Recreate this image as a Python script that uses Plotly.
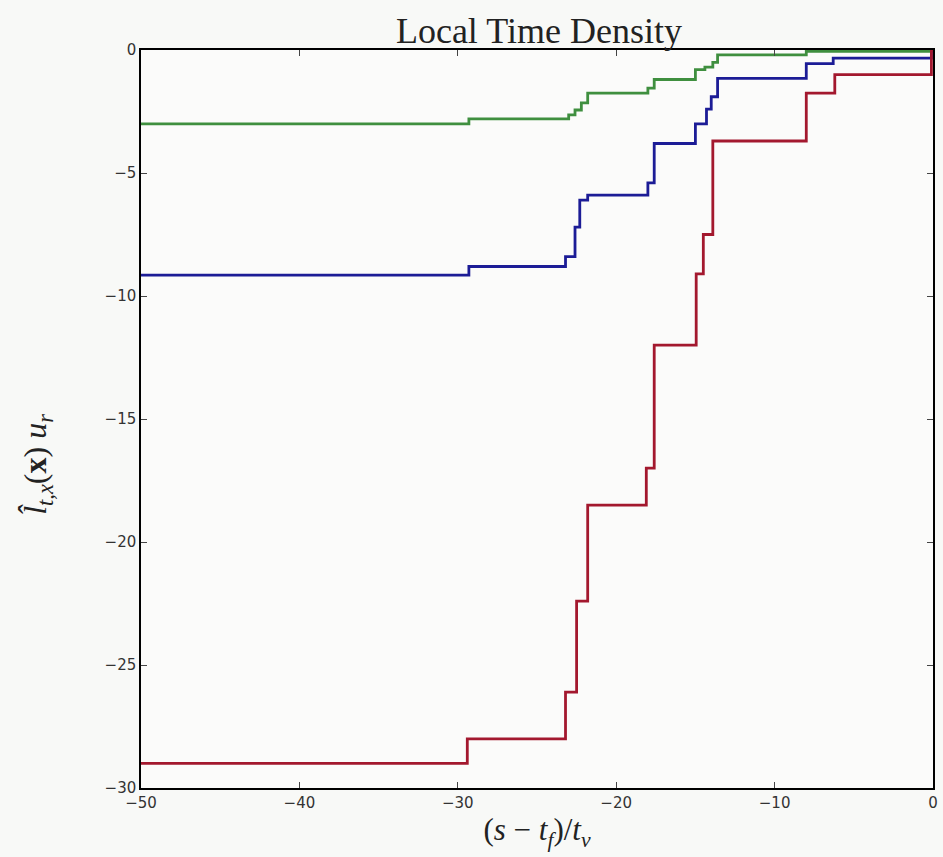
import plotly.graph_objects as go

# Step data: value y_i holds from x_i until next x
red_x = [-50, -29.4, -23.2, -22.5, -21.8, -18.1, -17.6, -14.95, -14.5, -13.9, -8.0, -6.2, -0.1, 0]
red_y = [-29.0, -28.0, -26.1, -22.4, -18.5, -17.0, -12.0, -9.1, -7.5, -3.7, -1.75, -1.0, 0.0, 0.0]

blue_x = [-50, -29.3, -23.2, -22.6, -22.3, -21.8, -18.0, -17.6, -15.0, -14.3, -14.0, -13.6, -8.0, -6.3, -0.1, 0]
blue_y = [-9.15, -8.8, -8.4, -7.2, -6.1, -5.9, -5.4, -3.8, -3.0, -2.4, -1.9, -1.15, -0.55, -0.33, 0.0, 0.0]

green_x = [-50, -29.3, -23.0, -22.6, -22.2, -21.8, -18.0, -17.6, -15.0, -14.4, -13.9, -13.6, -8.0, 0]
green_y = [-3.0, -2.8, -2.64, -2.44, -2.15, -1.75, -1.55, -1.2, -0.8, -0.7, -0.5, -0.2, -0.05, 0.0]

x_ticks = [-50, -40, -30, -20, -10, 0]
y_ticks = [0, -5, -10, -15, -20, -25, -30]

fig = go.Figure()
fig.add_trace(go.Scatter(x=green_x, y=green_y, mode="lines", line_shape="hv",
                         line=dict(color="#3f8f3f", width=2.8), showlegend=False))
fig.add_trace(go.Scatter(x=blue_x, y=blue_y, mode="lines", line_shape="hv",
                         line=dict(color="#1c1c96", width=2.8), showlegend=False))
fig.add_trace(go.Scatter(x=red_x, y=red_y, mode="lines", line_shape="hv",
                         line=dict(color="#a3182e", width=2.8), showlegend=False))

axis_common = dict(showgrid=False, zeroline=False, showline=True, linecolor="black",
                   linewidth=1.5, mirror="ticks", ticks="inside", ticklen=6,
                   tickcolor="#444", tickfont=dict(family="DejaVu Sans", size=15, color="#333"))

fig.update_xaxes(range=[-50, 0], tickvals=x_ticks,
                 title=dict(text="(<i>s</i> − <i>t<sub>f</sub></i>)/<i>t<sub>ν</sub></i>",
                            font=dict(family="Liberation Serif", size=31, color="#222"),
                            standoff=8),
                 **axis_common)
fig.update_yaxes(range=[-30, 0], tickvals=y_ticks, **axis_common)

fig.add_annotation(text="<i>l̂<sub>t,x</sub></i>(<b>x</b>) <i>u<sub>r</sub></i>",
                   xref="paper", yref="paper", x=-0.13, y=0.438,
                   xanchor="center", yanchor="middle", textangle=-90, showarrow=False,
                   font=dict(family="Liberation Serif", size=32, color="#222"))

fig.update_layout(
    width=943, height=857,
    margin=dict(l=141, r=5, t=50, b=69),
    paper_bgcolor="#f8f9f7", plot_bgcolor="#fbfbfa",
    title=dict(text="Local Time Density", x=0.5715, xanchor="center", y=0.965, yanchor="middle",
               font=dict(family="Liberation Serif", size=36, color="#222")),
)

fig.write_html("out.html", config={"displayModeBar": False},
               post_script="document.body.style.margin='0';")
